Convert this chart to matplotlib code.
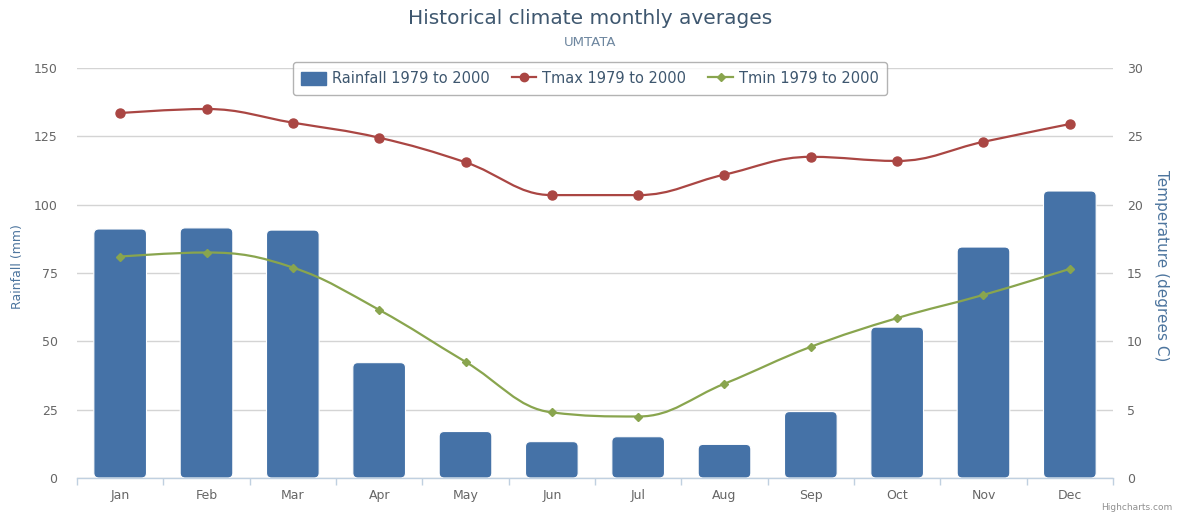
import numpy as np
import matplotlib
matplotlib.use("Agg")
import matplotlib.pyplot as plt
from matplotlib.path import Path
from matplotlib.patches import PathPatch, FancyBboxPatch, Patch
from matplotlib.lines import Line2D

# monthly averages, Umtata 1979-2000
months = ['Jan', 'Feb', 'Mar', 'Apr', 'May', 'Jun',
          'Jul', 'Aug', 'Sep', 'Oct', 'Nov', 'Dec']
rainfall = [91.1, 91.5, 90.7, 42.2, 17.0, 13.3, 15.1, 12.3, 24.3, 55.2, 84.5, 105.0]
tmax = [26.7, 27.0, 26.0, 24.9, 23.1, 20.7, 20.7, 22.2, 23.5, 23.2, 24.6, 25.9]
tmin = [16.2, 16.5, 15.4, 12.3, 8.5, 4.8, 4.5, 6.9, 9.6, 11.7, 13.4, 15.3]

rain_ticks = [0, 25, 50, 75, 100, 125, 150]
temp_ticks = [0, 5, 10, 15, 20, 25, 30]

BAR_C = '#4572A7'
TMAX_C = '#AA4643'
TMIN_C = '#89A54E'
TITLE_C = '#3E576F'
LABEL_C = '#4D759E'
TICK_C = '#666666'
GRID_C = '#D4D4D4'


def spline_path(xs, ys, smoothing=1.5):
    # smooth curve through the points, built from cubic bezier segments
    verts = [(xs[0], ys[0])]
    codes = [Path.MOVETO]
    n = len(xs)
    prev_right = (xs[0], ys[0])
    d = smoothing + 1
    for i in range(1, n):
        x, y = xs[i], ys[i]
        if i < n - 1:
            lx, ly = xs[i - 1], ys[i - 1]
            nx, ny = xs[i + 1], ys[i + 1]
            lcx = (smoothing * x + lx) / d
            lcy = (smoothing * y + ly) / d
            rcx = (smoothing * x + nx) / d
            rcy = (smoothing * y + ny) / d
            corr = ((rcy - lcy) * (rcx - x)) / (rcx - lcx) + y - rcy
            lcy += corr
            rcy += corr
            if lcy > ly and lcy > y:
                lcy = max(ly, y); rcy = 2 * y - lcy
            elif lcy < ly and lcy < y:
                lcy = min(ly, y); rcy = 2 * y - lcy
            if rcy > ny and rcy > y:
                rcy = max(ny, y); lcy = 2 * y - rcy
            elif rcy < ny and rcy < y:
                rcy = min(ny, y); lcy = 2 * y - rcy
            left, right = (lcx, lcy), (rcx, rcy)
        else:
            left, right = (x, y), None
        verts += [prev_right, left, (x, y)]
        codes += [Path.CURVE4] * 3
        prev_right = right
    return Path(verts, codes)


W, H = 1182, 515
fig = plt.figure(figsize=(W / 100, H / 100), dpi=100)
x0, x1, y0, y1 = 77, 1113, 68, 478
ax = fig.add_axes([x0 / W, 1 - y1 / H, (x1 - x0) / W, (y1 - y0) / H])
ax2 = ax.twinx()

x = np.arange(len(months))
ax.set_xlim(-0.5, len(months) - 0.5)
ax.set_ylim(0, 150)
ax2.set_ylim(0, 30)

# rainfall bars with rounded corners
bars = ax.bar(x, rainfall, width=0.61, color=BAR_C, zorder=2)
px_x = (x1 - x0) / len(months)
px_y = (y1 - y0) / 150.0
rad = 5.0 / px_x
for b in bars:
    bx, by = b.get_x(), b.get_y()
    bw, bh = b.get_width(), b.get_height()
    b.set_visible(False)
    fp = FancyBboxPatch((bx, by), bw, bh,
                        boxstyle=f"round,pad=0,rounding_size={rad}",
                        mutation_aspect=px_x / px_y,
                        facecolor=BAR_C, edgecolor='white', linewidth=0.8, zorder=2)
    ax.add_patch(fp)

# temperature lines
for vals, col, mk, ms in [(tmax, TMAX_C, 'o', 6.5), (tmin, TMIN_C, 'D', 4.0)]:
    ax2.add_patch(PathPatch(spline_path(list(x), vals), fill=False,
                            edgecolor=col, linewidth=1.6, zorder=3))
    ax2.plot(x, vals, linestyle='none', marker=mk, markersize=ms,
             color=col, markeredgecolor=col, zorder=4)

# grid and axes styling
ax.set_yticks(rain_ticks)
ax2.set_yticks(temp_ticks)
ax.yaxis.grid(True, color=GRID_C, linewidth=1.0, zorder=0)
ax.set_axisbelow(True)
for a in (ax, ax2):
    for s in ('top', 'left', 'right', 'bottom'):
        a.spines[s].set_visible(False)
ax.spines['bottom'].set_visible(True)
ax.spines['bottom'].set_color('#C0D0E0')
ax.spines['bottom'].set_linewidth(1.0)

ax.set_xticks(x)
ax.set_xticklabels(months)
ax.set_xticks(np.arange(-0.5, len(months) + 0.5, 1), minor=True)
ax.tick_params(axis='x', which='major', length=0, pad=8,
               labelsize=9, labelcolor=TICK_C)
ax.tick_params(axis='x', which='minor', length=5, width=1, color='#C0D0E0')
ax.tick_params(axis='y', length=0, pad=14, labelsize=9, labelcolor=TICK_C)
ax2.tick_params(axis='y', length=0, pad=10, labelsize=9, labelcolor=TICK_C)

fig.text(18 / W, 1 - 267 / H, 'Rainfall (mm)', rotation=90, ha='center',
         va='center', fontsize=9, color=LABEL_C)
fig.text(1161 / W, 1 - 266 / H, 'Temperature (degrees C)', rotation=270,
         ha='center', va='center', fontsize=11, color=LABEL_C)

# title block
fig.text(590 / W, 1 - 19 / H, 'Historical climate monthly averages',
         ha='center', va='center', fontsize=14.5, color=TITLE_C)
fig.text(590 / W, 1 - 43 / H, 'UMTATA', ha='center', va='center',
         fontsize=9.5, color='#6D869F')

handles = [
    Patch(facecolor=BAR_C, edgecolor=BAR_C),
    Line2D([], [], color=TMAX_C, marker='o', markersize=6, linewidth=1.6),
    Line2D([], [], color=TMIN_C, marker='D', markersize=4, linewidth=1.6),
]
labels = ['Rainfall 1979 to 2000', 'Tmax 1979 to 2000', 'Tmin 1979 to 2000']
leg = fig.legend(handles, labels, loc='upper center', ncol=3,
                 bbox_to_anchor=(590 / W, 1 - 58 / H), fontsize=10.5,
                 frameon=True, fancybox=True, shadow=False,
                 handlelength=1.7, handleheight=1.0, columnspacing=1.5,
                 handletextpad=0.4, borderpad=0.6, borderaxespad=0.3)
leg.get_frame().set_edgecolor('#A0A0A0')
leg.get_frame().set_linewidth(1.0)
for t in leg.get_texts():
    t.set_color(TITLE_C)

fig.text(1172 / W, 1 - 508 / H, 'Highcharts.com', ha='right', va='center',
         fontsize=6.5, color='#909090')

fig.savefig('out.png', dpi=100)
